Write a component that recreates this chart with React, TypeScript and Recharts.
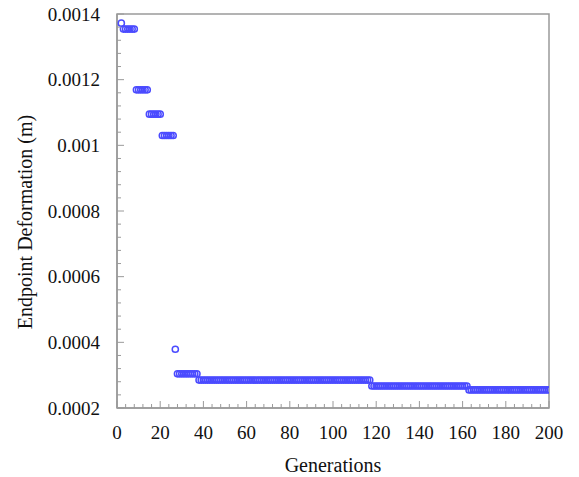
import { ScatterChart, Scatter, XAxis, YAxis, ReferenceArea } from "recharts";

// best endpoint deformation per generation, read as constant runs
const runStart = [2, 3, 9, 15, 21, 27, 28, 38, 118, 163];
const runEnd = [2, 8, 14, 20, 26, 27, 37, 117, 162, 200];
const runValue = [0.001372, 0.001354, 0.001169, 0.001095, 0.00103, 0.000379, 0.000304, 0.000285, 0.000267, 0.000255];

const xMajorTicks = [0, 20, 40, 60, 80, 100, 120, 140, 160, 180, 200];
const xTickLabels = ["0", "20", "40", "60", "80", "100", "120", "140", "160", "180", "200"];
const yMajorTicks = [0.0002, 0.0004, 0.0006, 0.0008, 0.001, 0.0012, 0.0014];
const yTickLabels = ["0.0002", "0.0004", "0.0006", "0.0008", "0.001", "0.0012", "0.0014"];

const AXIS = "#9a9a9a";
const DOT = "#4b4bff";
const FONT = "'Liberation Serif', 'DejaVu Serif', 'Noto Serif', Tinos, 'Times New Roman', serif";

const data: { gen: number; val: number }[] = [];
runStart.forEach((s, i) => {
  for (let g = s; g <= runEnd[i]; g++) data.push({ gen: g, val: runValue[i] });
});

// five minor steps between each pair of major ticks
function withMinor(major: number[]): number[] {
  const out: number[] = [];
  for (let i = 0; i < major.length - 1; i++) {
    const step = (major[i + 1] - major[i]) / 5;
    for (let k = 0; k < 5; k++) out.push(major[i] + k * step);
  }
  out.push(major[major.length - 1]);
  return out;
}

const xTicks = withMinor(xMajorTicks);
const yTicks = withMinor(yMajorTicks);

function majorIndex(v: number, major: number[]) {
  return major.findIndex((m) => Math.abs(m - v) < Math.abs(major[1] - major[0]) * 1e-4);
}

const XTick = ({ x, y, payload }: any) => {
  const idx = majorIndex(payload.value, xMajorTicks);
  const len = idx >= 0 ? 7 : 4;
  return (
    <g>
      <line x1={x} x2={x} y1={y} y2={y - len} stroke={AXIS} strokeWidth={1} />
      {idx >= 0 && (
        <text x={x} y={y + 24} textAnchor="middle" dominantBaseline="central" fontSize={19} fill="#111" style={{ fontFamily: FONT }}>
          {xTickLabels[idx]}
        </text>
      )}
    </g>
  );
};

const YTick = ({ x, y, payload }: any) => {
  const idx = majorIndex(payload.value, yMajorTicks);
  const len = idx >= 0 ? 7 : 4;
  return (
    <g>
      <line x1={x} x2={x + len} y1={y} y2={y} stroke={AXIS} strokeWidth={1} />
      {idx >= 0 && (
        <text x={x - 17} y={y} textAnchor="end" dominantBaseline="central" fontSize={19} fill="#111" style={{ fontFamily: FONT }}>
          {yTickLabels[idx]}
        </text>
      )}
    </g>
  );
};

const Dot = (props: any) => (
  <circle cx={props.cx} cy={props.cy} r={3.1} fill="none" stroke={DOT} strokeWidth={1.5} />
);

export default function App() {
  return (
    <div style={{ position: "absolute", left: 0, top: 0, background: "#fff", fontFamily: FONT }}>
      <ScatterChart width={579} height={477} margin={{ top: 14, right: 30, bottom: 0, left: 0 }}>
        <XAxis
          type="number"
          dataKey="gen"
          domain={[0, 200]}
          ticks={xTicks}
          interval={0}
          tickSize={0}
          tickMargin={0}
          tickLine={false}
          tick={<XTick />}
          height={69}
          stroke={AXIS}
          strokeWidth={1.5}
          allowDataOverflow
          label={{
            content: ({ viewBox }: any) => (
              <text
                x={viewBox.x + viewBox.width / 2}
                y={viewBox.y + 57}
                textAnchor="middle"
                dominantBaseline="central"
                fontSize={20}
                fill="#111"
                style={{ fontFamily: FONT }}
              >
                Generations
              </text>
            ),
          }}
        />
        <YAxis
          type="number"
          dataKey="val"
          domain={[0.0002, 0.0014]}
          ticks={yTicks}
          interval={0}
          tickSize={0}
          tickMargin={0}
          tickLine={false}
          tick={<YTick />}
          width={117}
          stroke={AXIS}
          strokeWidth={1.5}
          allowDataOverflow
          label={{
            content: ({ viewBox }: any) => {
              const cx = viewBox.x + 25;
              const cy = viewBox.y + viewBox.height / 2 + 11;
              return (
                <text
                  x={cx}
                  y={cy}
                  transform={`rotate(-90 ${cx} ${cy})`}
                  textAnchor="middle"
                  dominantBaseline="central"
                  fontSize={20}
                  fill="#111"
                  style={{ fontFamily: FONT }}
                >
                  Endpoint Deformation (m)
                </text>
              );
            },
          }}
        />
        <ReferenceArea x1={0} x2={200} y1={0.0002} y2={0.0014} fill="none" stroke={AXIS} strokeWidth={1.5} />
        <Scatter data={data} shape={<Dot />} isAnimationActive={false} />
      </ScatterChart>
    </div>
  );
}
